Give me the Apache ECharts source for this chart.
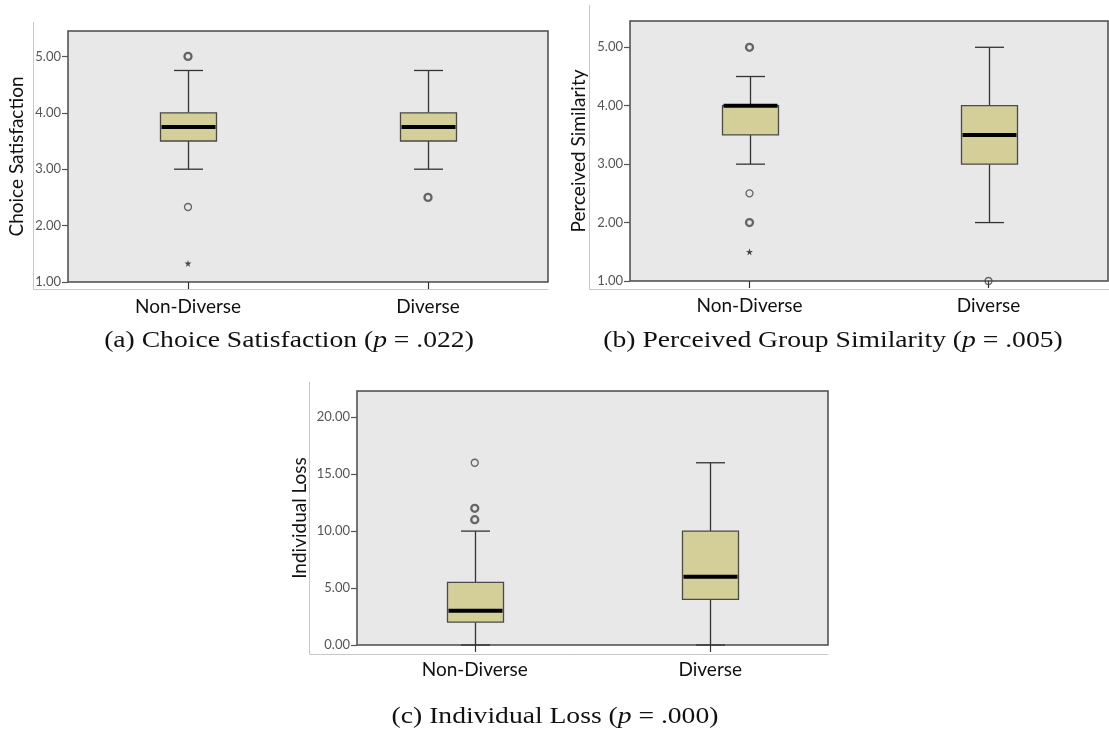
<!DOCTYPE html>
<html>
<head>
<meta charset="utf-8">
<script src="https://cdn.jsdelivr.net/npm/echarts@6/dist/echarts.min.js"></script>
<style>
html,body{margin:0;padding:0;background:#fff;}
#c{width:1109px;height:744px;}
</style>
</head>
<body>
<div id="c"></div>
<script>
// ---------- data ----------
const categories = ['Non-Diverse', 'Diverse'];

// [low whisker, Q1, median, Q3, high whisker]
const satBox = [[3.0, 3.5, 3.75, 4.0, 4.75], [3.0, 3.5, 3.75, 4.0, 4.75]];
const satCircles = [[0, 5.0, 2], [0, 2.33, 1], [1, 2.5, 2]]; // [category, value, multiplicity]
const satStars = [[0, 1.33]];

const simBox = [[3.0, 3.5, 4.0, 4.0, 4.5], [2.0, 3.0, 3.5, 4.0, 5.0]];
const simCircles = [[0, 5.0, 2], [0, 2.5, 1], [0, 2.0, 2], [1, 1.0, 1]];
const simStars = [[0, 1.5]];

const lossBox = [[0, 2, 3, 5.5, 10], [0, 4, 6, 10, 16]];
const lossCircles = [[0, 16, 1], [0, 12, 2], [0, 11, 2]];
const lossStars = [];

const yTicks15 = [1, 2, 3, 4, 5];
const yTicksLoss = [0, 5, 10, 15, 20];

const axisNames = ['Choice Satisfaction', 'Perceived Similarity', 'Individual Loss'];
const captions = [
  ['(a) Choice Satisfaction (', 'p', ' = .022)'],
  ['(b) Perceived Group Similarity (', 'p', ' = .005)'],
  ['(c) Individual Loss (', 'p', ' = .000)']
];

// ---------- styling ----------
const SANS = 'Lato, "Open Sans", sans-serif';
const SERIF = '"Liberation Serif", "DejaVu Serif", serif';
const BOX_W = 56, CAP_W = 29;

function renderBox(params, api) {
  const x = api.value(0);
  const lo = api.coord([x, api.value(1)]);
  const q1 = api.coord([x, api.value(2)]);
  const md = api.coord([x, api.value(3)]);
  const q3 = api.coord([x, api.value(4)]);
  const hi = api.coord([x, api.value(5)]);
  const cx = Math.round(lo[0]) + 0.5;
  const ln = {stroke: '#333', lineWidth: 1.3};
  return {
    type: 'group',
    children: [
      {type: 'line', shape: {x1: cx, y1: hi[1], x2: cx, y2: q3[1]}, style: ln},
      {type: 'line', shape: {x1: cx, y1: q1[1], x2: cx, y2: lo[1]}, style: ln},
      {type: 'line', shape: {x1: cx - CAP_W / 2, y1: hi[1], x2: cx + CAP_W / 2, y2: hi[1]}, style: ln},
      {type: 'line', shape: {x1: cx - CAP_W / 2, y1: lo[1], x2: cx + CAP_W / 2, y2: lo[1]}, style: ln},
      {type: 'rect', shape: {x: cx - BOX_W / 2, y: q3[1], width: BOX_W, height: q1[1] - q3[1]},
        style: {fill: '#d4cf99', stroke: '#4a4a4a', lineWidth: 1.3}},
      {type: 'line', shape: {x1: cx - BOX_W / 2 + 1, y1: md[1], x2: cx + BOX_W / 2 - 1, y2: md[1]},
        style: {stroke: '#000', lineWidth: 4}}
    ]
  };
}

function boxData(arr) { return arr.map((b, i) => [i].concat(b)); }
function circleData(arr) {
  return arr.map(d => ({value: [d[0], d[1]], itemStyle: {borderWidth: d[2] > 1 ? 2.3 : 1.3}}));
}

const grids = [
  {left: 68, top: 31, width: 480, height: 251},
  {left: 630, top: 21, width: 478, height: 260},
  {left: 357, top: 391, width: 471, height: 254}
];
const yRanges = [[1, 5.45, yTicks15, 1], [1, 5.45, yTicks15, 1], [0, 22.3, yTicksLoss, 5]];
const nameGaps = [42, 42, 48];
const boxes = [satBox, simBox, lossBox];
const circles = [satCircles, simCircles, lossCircles];
const stars = [satStars, simStars, lossStars];
const capPos = [[289, 341], [833, 341], [555, 717]];

const option = {
  animation: false,
  backgroundColor: '#fff',
  grid: grids.map(g => Object.assign({show: true, backgroundColor: '#e8e8e8', borderColor: '#4a4a4a', borderWidth: 1.5}, g)),
  xAxis: grids.map((g, i) => ({
    type: 'category', gridIndex: i, data: categories,
    axisLine: {show: false},
    axisTick: {show: true, alignWithLabel: true, length: 7, lineStyle: {color: '#333', width: 1.2}},
    axisLabel: {margin: 15, fontFamily: SANS, fontSize: 19, color: '#111'},
    splitLine: {show: false}
  })),
  yAxis: grids.map((g, i) => ({
    type: 'value', gridIndex: i, min: yRanges[i][0], max: yRanges[i][1], interval: yRanges[i][3],
    name: axisNames[i], nameLocation: 'middle', nameGap: nameGaps[i], nameRotate: 90,
    nameTextStyle: {fontFamily: SANS, fontSize: 19, color: '#111'},
    axisLine: {show: false},
    splitLine: {show: false},
    axisTick: {show: true, length: 6, customValues: yRanges[i][2], lineStyle: {color: '#555', width: 1.2}},
    axisLabel: {customValues: yRanges[i][2], margin: 7, fontFamily: SANS, fontSize: 13, color: '#555',
      formatter: v => Number(v).toFixed(2)}
  })),
  graphic: [
    {type: 'polyline', silent: true, shape: {points: [[33.5, 22], [33.5, 289.5], [548, 289.5]]}, style: {stroke: '#c8c8c8', lineWidth: 1, fill: null}},
    {type: 'polyline', silent: true, shape: {points: [[589.5, 5], [589.5, 289.5], [1109, 289.5]]}, style: {stroke: '#c8c8c8', lineWidth: 1, fill: null}},
    {type: 'polyline', silent: true, shape: {points: [[309.5, 382], [309.5, 654.5], [828, 654.5]]}, style: {stroke: '#c8c8c8', lineWidth: 1, fill: null}}
  ].concat(captions.map((c, i) => ({
    type: 'text', silent: true,
    x: capPos[i][0], y: capPos[i][1], scaleX: 1.15, scaleY: 1,
    style: {
      text: c[0] + '{i|' + c[1] + '}' + c[2],
      align: 'center', verticalAlign: 'middle',
      font: '24px ' + SERIF, fill: '#111',
      rich: {i: {fontFamily: SERIF, fontSize: 24, fontStyle: 'italic', fill: '#111', color: '#111'}}
    }
  }))),
  series: []
};

for (let i = 0; i < 3; i++) {
  option.series.push({
    type: 'custom', xAxisIndex: i, yAxisIndex: i,
    renderItem: renderBox, data: boxData(boxes[i]),
    encode: {x: 0, y: [1, 2, 3, 4, 5]}, z: 2, clip: false
  });
  option.series.push({
    type: 'scatter', xAxisIndex: i, yAxisIndex: i, symbol: 'circle', symbolSize: 7,
    itemStyle: {color: 'rgba(0,0,0,0)', borderColor: '#444', borderWidth: 1.3},
    data: circleData(circles[i]), z: 3, clip: false
  });
  option.series.push({
    type: 'scatter', xAxisIndex: i, yAxisIndex: i,
    symbol: 'path://M50,0 L61,35 L98,35 L68,57 L79,91 L50,70 L21,91 L32,57 L2,35 L39,35 Z',
    symbolSize: 7, itemStyle: {color: '#222'},
    data: stars[i], z: 3, clip: false
  });
}

const chart = echarts.init(document.getElementById('c'), null, {renderer: 'canvas'});
chart.setOption(option);
</script>
</body>
</html>
